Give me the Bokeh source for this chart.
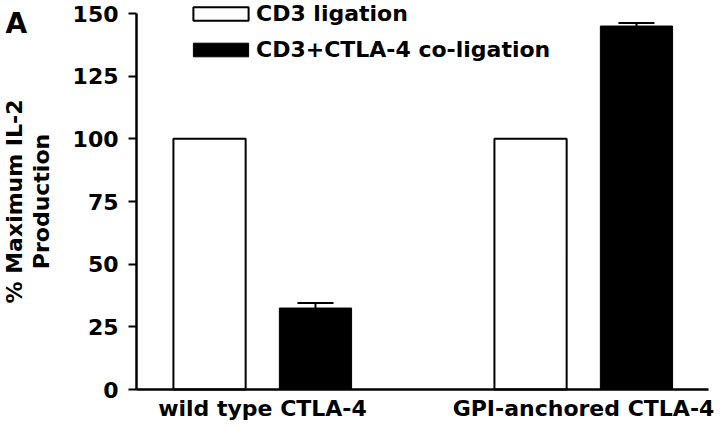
from bokeh.plotting import figure
from bokeh.models import (Range1d, Legend, LegendItem, Whisker, TeeHead,
                          Label, ColumnDataSource, FixedTicker, LinearAxis)
from bokeh.embed import file_html
from bokeh.resources import INLINE

# ---- data ----
groups = ["wild type CTLA-4", "GPI-anchored CTLA-4"]
cd3_ligation = [100, 100]
cd3_ctla4_coligation = [32.5, 145]
coligation_err = [2.0, 1.2]
y_ticks = [0, 25, 50, 75, 100, 125, 150]
series_labels = ["CD3 ligation", "CD3+CTLA-4 co-ligation"]

FONT = "DejaVu Sans"
FS = "22px"

xpos = list(range(len(groups)))
offset = 0.165
bar_w = 0.225
X_AXIS_LEFT = -0.3925
X_AXIS_RIGHT = 1.389

src = ColumnDataSource(dict(
    x1=[x - offset for x in xpos],
    x2=[x + offset for x in xpos],
    cd3=cd3_ligation,
    col=cd3_ctla4_coligation,
    upper=[v + e for v, e in zip(cd3_ctla4_coligation, coligation_err)],
))

p = figure(width=716, height=426,
           x_range=Range1d(-0.8162, 1.4143), y_range=Range1d(-14.76, 155.19),
           output_backend="svg", toolbar_location=None,
           min_border_left=0, min_border_right=0,
           min_border_top=0, min_border_bottom=0)
p.grid.visible = False
p.outline_line_color = None
p.background_fill_color = "white"
p.border_fill_color = "white"

r1 = p.vbar(x="x1", top="cd3", width=bar_w, source=src,
            fill_color="white", line_color="black", line_width=2)
r2 = p.vbar(x="x2", top="col", width=bar_w, source=src,
            fill_color="black", line_color="black", line_width=1)

w = Whisker(base="x2", lower="col", upper="upper", source=src,
            dimension="height", line_width=2, line_color="black",
            upper_head=TeeHead(size=36, line_width=2, line_color="black"),
            lower_head=None)
p.add_layout(w)

# y axis
ya = p.yaxis[0]
ya.fixed_location = X_AXIS_LEFT
ya.bounds = (0, 150)
ya.ticker = FixedTicker(ticks=y_ticks)
ya.major_label_text_font = FONT
ya.major_label_text_font_style = "bold"
ya.major_label_text_font_size = FS
ya.major_label_text_color = "black"
ya.major_tick_out = 8
ya.major_tick_in = 0
ya.minor_tick_out = 0
ya.minor_tick_in = 0
ya.major_tick_line_width = 2
ya.major_tick_line_color = "black"
ya.axis_line_width = 2.5
ya.axis_line_color = "black"
ya.major_label_standoff = 10
ya.axis_label = "Production"
ya.axis_label_text_font = FONT
ya.axis_label_text_font_style = "bold"
ya.axis_label_text_font_size = FS
ya.axis_label_text_color = "black"
ya.axis_label_standoff = 16

# first line of the y-axis title (an axis carrying only a label)
ya2 = LinearAxis(fixed_location=X_AXIS_LEFT, bounds=(0, 150),
                 ticker=FixedTicker(ticks=[]), axis_line_color=None,
                 major_tick_out=0, major_tick_in=0, minor_tick_out=0,
                 minor_tick_in=0, major_label_standoff=0,
                 axis_label="% Maximum IL-2", axis_label_text_font=FONT,
                 axis_label_text_font_style="bold",
                 axis_label_text_font_size=FS, axis_label_text_color="black",
                 axis_label_standoff=110)
p.add_layout(ya2, "left")

# x axis
xa = p.xaxis[0]
xa.fixed_location = 0
xa.bounds = (X_AXIS_LEFT, X_AXIS_RIGHT)
xa.ticker = FixedTicker(ticks=xpos)
xa.major_label_overrides = {i: g for i, g in zip(xpos, groups)}
xa.major_label_text_font = FONT
xa.major_label_text_font_style = "bold"
xa.major_label_text_font_size = FS
xa.major_label_text_color = "black"
xa.major_tick_out = 0
xa.major_tick_in = 0
xa.minor_tick_out = 0
xa.minor_tick_in = 0
xa.axis_line_width = 2.5
xa.axis_line_color = "black"
xa.major_label_standoff = 6

legend = Legend(items=[LegendItem(label=series_labels[0], renderers=[r1]),
                       LegendItem(label=series_labels[1], renderers=[r2])],
                location=(186, 364), padding=0, margin=0, spacing=11,
                glyph_width=69, glyph_height=17, label_standoff=1,
                label_text_font=FONT, label_text_font_style="bold",
                label_text_font_size=FS, label_text_color="black",
                border_line_color=None, background_fill_alpha=0)
p.add_layout(legend)

panel_label = Label(x=-0.8006, y=146.0, text="A", text_font=FONT,
                    text_font_style="bold", text_font_size="28px",
                    text_color="black", text_baseline="middle")
p.add_layout(panel_label)

open("out.html", "w").write(file_html(p, INLINE))
